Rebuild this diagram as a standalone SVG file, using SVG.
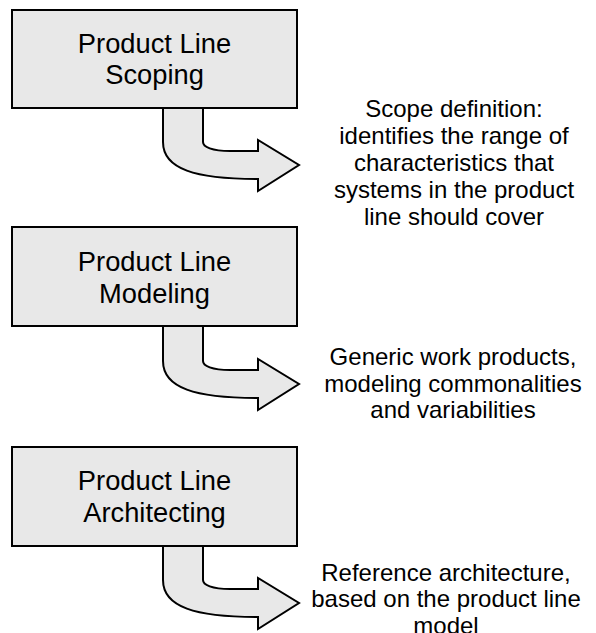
<svg xmlns="http://www.w3.org/2000/svg" width="596" height="633" viewBox="0 0 596 633">
<style>
.box{fill:#e8e8e8;stroke:#000;stroke-width:2}
.arr{fill:#e8e8e8;stroke:#000;stroke-width:2;stroke-linejoin:miter}
.bt{font-family:"Liberation Sans",Arial,sans-serif;font-size:27.3px;fill:#000;text-anchor:middle}
.lt{font-family:"Liberation Sans",Arial,sans-serif;font-size:24px;fill:#000;text-anchor:middle}
</style>
<defs>
<path id="bend" d="M163 0 L163 35 C163 62 195 72 258 72 L258 84 L299 58 L258 33 L258 44 L230 44 C212 44 203 40 203 35 L203 0 Z"/>
</defs>
<g id="connectors">
<use href="#bend" class="arr" transform="translate(0,107)"/>
<use href="#bend" class="arr" transform="translate(0,326)"/>
<use href="#bend" class="arr" transform="translate(0,545)"/>
</g>
<g id="scoping">
<rect class="box" x="12" y="10" width="285" height="98"/>
<text class="bt" x="154.5" y="53">Product Line</text>
<text class="bt" x="154.5" y="84">Scoping</text>
</g>
<g id="modeling">
<rect class="box" x="12" y="227" width="285" height="99"/>
<text class="bt" x="154.5" y="271">Product Line</text>
<text class="bt" x="154.5" y="303">Modeling</text>
</g>
<g id="architecting">
<rect class="box" x="12" y="447" width="285" height="99"/>
<text class="bt" x="154.5" y="490">Product Line</text>
<text class="bt" x="154.5" y="522">Architecting</text>
</g>
<g id="scope-definition">
<text class="lt" x="454" y="117">Scope definition:</text>
<text class="lt" x="454" y="144">identifies the range of</text>
<text class="lt" x="454" y="171">characteristics that</text>
<text class="lt" x="454" y="198">systems in the product</text>
<text class="lt" x="454" y="225">line should cover</text>
</g>
<g id="generic-work-products">
<text class="lt" x="453" y="365">Generic work products,</text>
<text class="lt" x="453" y="392">modeling commonalities</text>
<text class="lt" x="453" y="418">and variabilities</text>
</g>
<g id="reference-architecture">
<text class="lt" x="446" y="581">Reference architecture,</text>
<text class="lt" x="446" y="607">based on the product line</text>
<text class="lt" x="446" y="634">model</text>
</g>
</svg>
